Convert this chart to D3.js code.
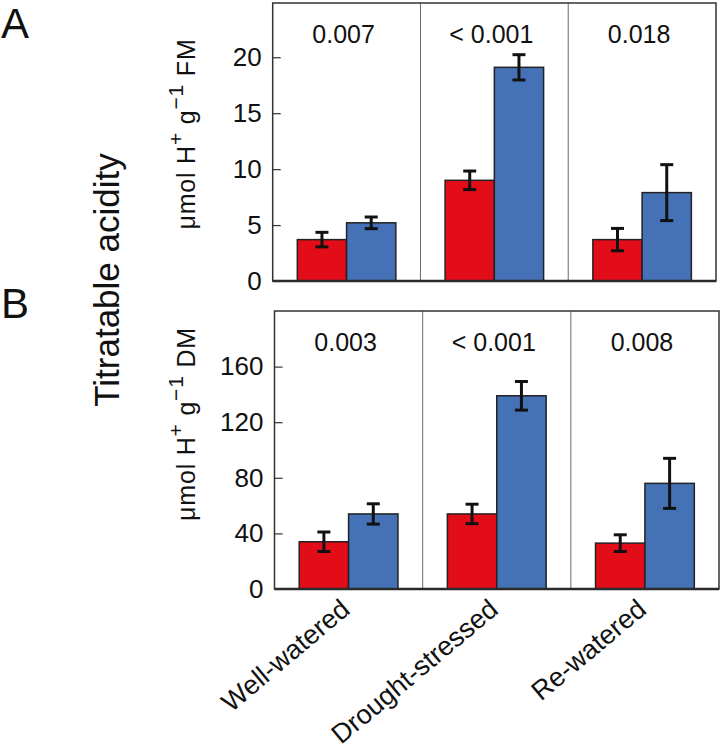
<!DOCTYPE html>
<html><head><meta charset="utf-8">
<script src="https://cdn.jsdelivr.net/npm/d3@7"></script>
<style>body{margin:0;background:#fff}svg{display:block}text{font-family:"Liberation Sans",Arial,Helvetica,sans-serif;fill:#111}</style>
</head><body>
<script>
const categories = ["Well-watered", "Drought-stressed", "Re-watered"];
const seriesNames = ["red", "blue"];
// Panel A: µmol H+ g-1 FM
const aRed = [3.7, 9.0, 3.7];
const aRedErr = [0.65, 0.83, 1.0];
const aBlue = [5.2, 19.1, 7.9];
const aBlueErr = [0.52, 1.13, 2.5];
const aPvals = ["0.007", "< 0.001", "0.018"];
const aTicks = [0, 5, 10, 15, 20];
// Panel B: µmol H+ g-1 DM
const bRed = [34, 54, 33];
const bRedErr = [7, 7, 6];
const bBlue = [54, 139, 76];
const bBlueErr = [7.3, 10.3, 18];
const bPvals = ["0.003", "< 0.001", "0.008"];
const bTicks = [0, 40, 80, 120, 160];

const colors = {red: "#E20D18", blue: "#4572B6"};

const W = 722, H = 755;
const svg = d3.select("body").append("svg").attr("width", W).attr("height", H);

function panel(cfg) {
  const g = svg.append("g");
  const x = d3.scaleBand().domain(categories).range([cfg.x0, cfg.x1]).padding(0);
  const y = d3.scaleLinear().domain([0, cfg.ymax]).range([cfg.y1, cfg.y0]);
  const bw = x.bandwidth();
  const sub = d3.scaleBand().domain(seriesNames).range([bw / 6, bw * 5 / 6]).padding(0);

  g.selectAll("line.div").data(categories.slice(1)).join("line")
    .attr("x1", d => x(d)).attr("x2", d => x(d))
    .attr("y1", cfg.y0).attr("y2", cfg.y1)
    .attr("stroke", "#6a6a6a").attr("stroke-width", 1);

  const rows = categories.map((c, i) => [
    {c, s: "red", v: cfg.red[i], e: cfg.redErr[i]},
    {c, s: "blue", v: cfg.blue[i], e: cfg.blueErr[i]}
  ]).flat();

  g.selectAll("rect.bar").data(rows).join("rect")
    .attr("x", d => x(d.c) + sub(d.s))
    .attr("width", sub.bandwidth())
    .attr("y", d => y(d.v))
    .attr("height", d => y(0) - y(d.v))
    .attr("fill", d => colors[d.s])
    .attr("stroke", "#222").attr("stroke-width", 1.5);

  const eg = g.selectAll("g.err").data(rows).join("g")
    .attr("transform", d => `translate(${x(d.c) + sub(d.s) + sub.bandwidth() / 2},0)`);
  eg.append("line").attr("x1", 0).attr("x2", 0)
    .attr("y1", d => y(d.v + d.e)).attr("y2", d => y(d.v - d.e))
    .attr("stroke", "#111").attr("stroke-width", 3);
  eg.append("line").attr("x1", -6.5).attr("x2", 6.5)
    .attr("y1", d => y(d.v + d.e)).attr("y2", d => y(d.v + d.e))
    .attr("stroke", "#111").attr("stroke-width", 3);
  eg.append("line").attr("x1", -6.5).attr("x2", 6.5)
    .attr("y1", d => y(d.v - d.e)).attr("y2", d => y(d.v - d.e))
    .attr("stroke", "#111").attr("stroke-width", 3);

  g.append("rect").attr("x", cfg.x0).attr("y", cfg.y0)
    .attr("width", cfg.x1 - cfg.x0).attr("height", cfg.y1 - cfg.y0)
    .attr("fill", "none").attr("stroke", "#333").attr("stroke-width", 1.5);
  g.append("line").attr("x1", cfg.x0).attr("x2", cfg.x1)
    .attr("y1", cfg.y1).attr("y2", cfg.y1)
    .attr("stroke", "#2a2a2a").attr("stroke-width", 2.5);

  const ax = g.append("g").attr("transform", `translate(${cfg.x0},0)`)
    .call(d3.axisLeft(y).tickValues(cfg.ticks).tickSizeInner(-8).tickSizeOuter(0).tickPadding(11));
  ax.select(".domain").remove();
  ax.selectAll(".tick line").attr("stroke", "#333").attr("stroke-width", 1.2);
  ax.selectAll(".tick text").attr("font-size", 26).attr("fill", "#111")
    .style("font-family", "Liberation Sans, Arial, sans-serif");

  g.selectAll("text.p").data(categories).join("text")
    .attr("x", (d) => x(d) + bw / 2 - 3).attr("y", cfg.y0 + 40)
    .attr("text-anchor", "middle").attr("font-size", 25)
    .text((d, i) => cfg.pvals[i]);

  const ul = g.append("text")
    .attr("transform", `translate(${cfg.ulx},${cfg.uly}) rotate(-90)`)
    .attr("text-anchor", "middle").attr("font-size", 25)
    .attr("letter-spacing", 0.8);
  ul.append("tspan").text("μmol H");
  ul.append("tspan").attr("dy", -12).attr("font-size", 21).text("+");
  ul.append("tspan").attr("dy", 12).text(" g");
  ul.append("tspan").attr("dy", -12).attr("font-size", 21).text("−1");
  ul.append("tspan").attr("dy", 12).text(" " + cfg.unit);

  svg.append("text").attr("x", 1).attr("y", cfg.letterY).attr("font-size", 42).text(cfg.letter);
  return {x, y};
}

panel({x0: 272.7, x1: 716, y0: 3, y1: 281, ymax: 24.85, ticks: aTicks,
  red: aRed, redErr: aRedErr, blue: aBlue, blueErr: aBlueErr, pvals: aPvals,
  unit: "FM", ulx: 195, uly: 134, letter: "A", letterY: 38});
const pb = panel({x0: 274.5, x1: 719, y0: 311, y1: 589, ymax: 200, ticks: bTicks,
  red: bRed, redErr: bRedErr, blue: bBlue, blueErr: bBlueErr, pvals: bPvals,
  unit: "DM", ulx: 195, uly: 424, letter: "B", letterY: 318});

const cx = svg.append("g").attr("transform", "translate(0,589)")
  .call(d3.axisBottom(pb.x).tickSize(0).tickPadding(0));
cx.select(".domain").remove();
cx.selectAll(".tick text")
  .attr("font-size", 27).attr("fill", "#111")
  .style("font-family", "Liberation Sans, Arial, sans-serif")
  .attr("text-anchor", "end")
  .attr("dy", 0).attr("y", 0)
  .attr("transform", "translate(3,23) rotate(-40)");

svg.append("text").attr("transform", "translate(119,280) rotate(-90)")
  .attr("text-anchor", "middle").attr("font-size", 35).text("Titratable acidity");
</script>
</body></html>
